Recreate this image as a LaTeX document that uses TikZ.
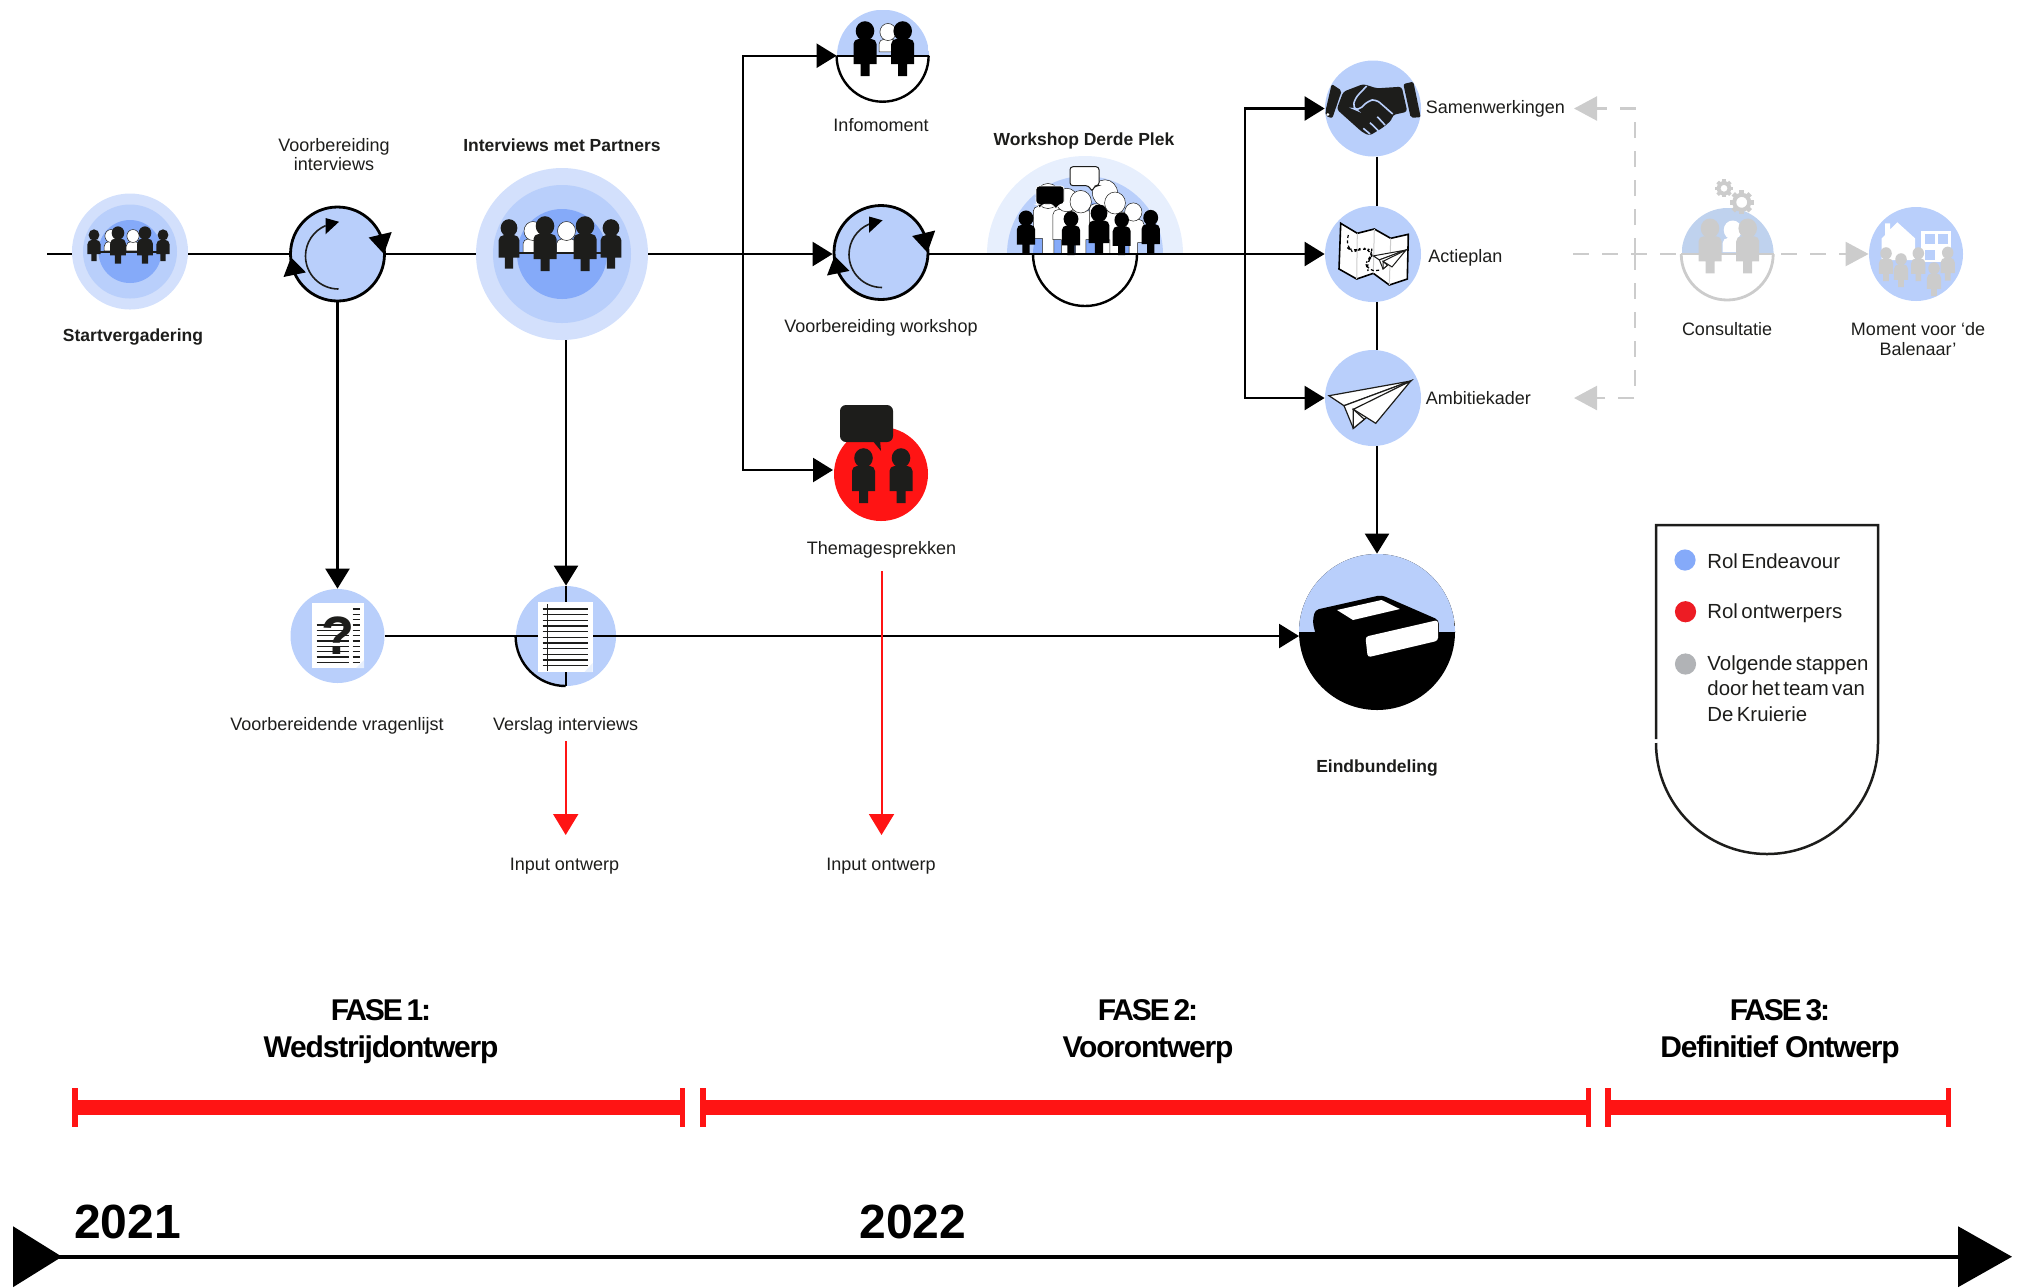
\documentclass[tikz,border=0pt]{standalone}
\usepackage{fontspec}
\setmainfont{Liberation Sans}
\newfontfamily\legfont[WordSpace=0.6]{Liberation Sans}
\newfontfamily\fasefont[LetterSpace=-4]{Liberation Sans}
\newfontfamily\fasekop[LetterSpace=-7,WordSpace=0.6]{Liberation Sans}
\usetikzlibrary{calc, arrows.meta}

\definecolor{ink}{HTML}{1D1D1B}
\definecolor{bleek}{HTML}{D3E0FC}
\definecolor{blauw}{HTML}{B9CFFB}
\definecolor{diep}{HTML}{85AAF9}
\definecolor{wsbleek}{HTML}{E7EFFD}
\definecolor{consblauw}{HTML}{BFD2EE}
\definecolor{rood}{HTML}{FF1414}
\definecolor{grijs}{HTML}{CCCCCC}

\tikzset{
    stap/.style={circle,inner sep=0pt,fill=blauw},
    halfboven/.style={path picture={\fill[#1] (path picture bounding box.west) rectangle (path picture bounding box.north east);}},
    lbl/.style={font=\fontsize{9}{9.7}\selectfont,text=ink,align=center,inner sep=0pt},
    lblb/.style={font=\fontsize{8.75}{9.7}\selectfont\bfseries,text=ink,align=center,inner sep=0pt},
    leg/.style={font=\fontsize{10.2}{12.8}\selectfont\legfont,text=ink,align=left,anchor=west,inner sep=0pt},
    fase/.style={font=\fontsize{15}{18.4}\selectfont\fasefont\bfseries,text=black,align=center,inner sep=0pt},
    jaar/.style={font=\fontsize{24}{24}\selectfont\bfseries,text=black,inner sep=0pt},
    lijn/.style={draw=black,line width=1.2pt},
    pijl/.style={lijn,-{Triangle[length=10pt,width=12pt]}},
    roodpijl/.style={draw=rood,line width=1pt,-{Triangle[length=10.5pt,width=12.5pt]}},
    streep/.style={draw=grijs,line width=1.2pt,dash pattern=on 8pt off 6.5pt},
    streeppijl/.style={streep,-{Triangle[length=11.5pt,width=12pt]}},
    fasetick/.style={fill=rood,inner sep=0pt,outer sep=0pt,minimum width=2.75pt,minimum height=19.5pt},
    fasebar/.style={draw=rood,line width=7.5pt},
    zwpers/.style={fill=black},
    inkpers/.style={fill=ink},
    witpers/.style={fill=white,draw=ink,line width=.25pt},
    grpers/.style={fill=grijs},
    pics/persoon/.style={code={
        \path[#1] (-4.5,-45) -- (-4.5,-33) -- (-11.5,-33) [rounded corners=2.5pt] -- (-11.5,-8) -- (11.5,-8) [sharp corners] -- (11.5,-33) -- (4.5,-33) -- (4.5,-45) -- cycle;
        \path[#1] (0,0) ellipse (9.3 and 9.8);
    }},
    pics/persoon/.default=zwpers,
    pics/bovenlijf/.style={code={
        \path[#1] (-10,-22) [rounded corners=2.5pt] -- (-10,-8) -- (10,-8) [sharp corners] -- (10,-22) -- cycle;
        \path[#1] (0,0) ellipse (9 and 9.5);
    }},
    pics/bovenlijf/.default=witpers,
    pics/kringloop/.style={code={
        \draw[draw=ink,line width=.8pt] (1,-35) arc (270:113:33);
        \fill[black] (-12,36) -- (1.5,32.2) -- (-12,19.7) -- cycle;
        \fill[black] (31.2,16.5) -- (54.2,22) -- (46.4,0) -- cycle;
        \fill[black] (-54,-23) -- (-46.5,-3.4) -- (-31.6,-18.4) -- cycle;
    }},
    pics/vliegtuig/.style={code={
        \filldraw[fill=white,draw=ink,line width=#1] (-81.7,-14.7) -- (0,0) -- (-66.7,-24.7) -- cycle;
        \filldraw[fill=white,draw=ink,line width=#1] (-66.7,-24.7) -- (0,0) -- (-57.4,-47.3) -- cycle;
        \filldraw[fill=white,draw=ink,line width=#1] (-57.4,-28.3) -- (-46.4,-38.3) -- (-57.4,-47.3) -- cycle;
        \filldraw[fill=white,draw=ink,line width=#1] (0,0) -- (-35,-42.3) -- (-57.4,-28.3) -- cycle;
    }},
    pics/vliegtuig/.default=.6pt,
    pics/tandwiel/.style={code={
        \draw[draw=grijs,line width=2pt] (0,0) circle (7.5);
        \foreach \a in {0,45,...,315}
            \fill[grijs,rotate=\a] (7,-2.4) rectangle (12,2.4);
    }}
}

\begin{document}
\begin{tikzpicture}[x=0.5pt,y=0.5pt]
    \useasboundingbox (0,0) rectangle (2022,-1287);

    % circles of the steps
    \node[stap,fill=bleek,minimum size=58pt] (start) at (130,-251.5) {};
    \node[stap,minimum size=47pt] (startm) at (130,-251.5) {};
    \node[stap,fill=diep,minimum size=31.5pt] (starti) at (130,-251.5) {};
    \node[stap,draw=black,line width=1.4pt,minimum size=47pt] (voorint) at (337.5,-254) {};
    \node[stap,fill=bleek,minimum size=86pt] (interv) at (562,-254) {};
    \node[stap,minimum size=69pt] (intervm) at (562,-254) {};
    \node[stap,fill=diep,minimum size=45pt] (intervi) at (562,-254) {};
    \node[stap,fill=none,halfboven=blauw,minimum size=46pt] (info) at (883,-55.7) {};
    \node[stap,draw=black,line width=1.4pt,minimum size=47pt] (vworkshop) at (881,-252.5) {};
    \node[stap,fill=rood,minimum size=47pt] (thema) at (881,-474) {};
    \node[stap,minimum size=47pt] (vragen) at (337.5,-636) {};
    \node[stap,minimum size=50pt] (verslag) at (566,-636) {};
    \node[stap,minimum size=48pt] (samen) at (1373,-108.5) {};
    \node[stap,minimum size=48pt] (actie) at (1373,-254) {};
    \node[stap,minimum size=48pt] (ambitie) at (1373,-398) {};
    \node[stap,fill=black,halfboven=blauw,minimum size=78pt] (eind) at (1377,-632) {};
    \node[stap,fill=none,halfboven=consblauw,minimum size=46pt] (consult) at (1727.6,-254) {};
    \node[stap,minimum size=47pt] (balenaar) at (1916,-254) {};

    % free ends
    \coordinate (lead) at (47,-254);
    \coordinate (split1) at (743,-254);
    \coordinate (split2) at (1245,-254);
    \coordinate (themain) at (833,-470);
    \coordinate (eindin) at (1299,-636);
    \coordinate (rood1) at (565.7,-835);
    \coordinate (rood2) at (881.5,-835);
    \coordinate (dashl) at (1573,-254);
    \coordinate (dashmid) at (1635,-254);
    \coordinate (dashtop) at (1574,-108.5);
    \coordinate (dashbot) at (1574,-398);

    % workshop dome
    \foreach \r/\c in {98/wsbleek,78/blauw,52/diep}
        \fill[\c] (1085-\r,-254) arc (180:0:\r) -- cycle;
    \draw[lijn] (1033,-254) arc (180:360:52);
    \foreach \x/\y/\s in {1048/196/1.28,1066.7/200/1.2,1080.7/201.7/1.15,1105/193/1.35,1115/203/1.12,1133.3/212/.93}
        \pic[scale=\s] at (\x,-\y) {persoon=witpers};
    \filldraw[fill=white,draw=ink,line width=.5pt,rounded corners=1.5pt] (1070,-166.7) -- (1099,-166.7) -- (1099,-185.7) -- (1095,-185.7) -- (1091.7,-191.7) -- (1089,-185.7) -- (1070,-185.7) -- cycle;
    \filldraw[fill=black,draw=white,line width=.4pt,rounded corners=1.5pt] (1036,-186) -- (1064,-186) -- (1064,-204.3) -- (1059,-204.3) -- (1055.7,-210) -- (1053,-204.3) -- (1042,-204.3) -- (1039,-210) -- (1038.5,-204.3) -- (1036,-204.3) -- cycle;
    \foreach \x/\y/\s in {1026/218.3/.8,1071/219/.8,1099/213.3/.9,1121.7/220/.78,1150.7/217.7/.8}
        \pic[scale=\s] at (\x,-\y) {persoon};

    % main line
    \draw[lijn] (lead) -- (start.west |- lead);
    \draw[lijn] (start.east |- lead) -- (voorint);
    \draw[lijn] (voorint) -- (interv);
    \draw[pijl] (interv) -- (vworkshop.west |- interv);
    \draw[pijl] (vworkshop.east |- interv) -- (actie);
    % branches
    \draw[pijl] (split1) |- (info);
    \draw[pijl] (split1) |- (themain);
    \draw[pijl] (split2) |- (samen);
    \draw[pijl] (split2) |- (ambitie);
    % vertical lines
    \draw[pijl] (voorint) -- (vragen);
    \draw[pijl] (interv.south -| verslag) -- (verslag);
    \draw[lijn] (verslag.north) -- (verslag.south);
    \draw[lijn] (samen.south -| eind) -- (actie.north -| eind);
    \draw[lijn] (actie.south -| eind) -- (ambitie.north -| eind);
    \draw[pijl] (ambitie.south -| eind) -- (eind);
    % lower line
    \draw[lijn] (vragen) -- (verslag.center);
    \draw[pijl] (verslag.center) -- (eindin);
    % half circles
    \draw[lijn] (info.west) -- (info.east);
    \draw[lijn] (info.west) arc (180:360:46);
    \draw[lijn] (verslag.west) arc (180:270:50);
    % grey steps
    \draw[streep] (dashl) -- (consult);
    \draw[streeppijl,shorten <=3.5pt] (consult) -- (balenaar);
    \draw[streeppijl] (dashmid) |- (dashtop);
    \draw[streeppijl] (dashmid) |- (dashbot);
    \draw[draw=grijs,line width=1.4pt] (consult.west) arc (180:360:46);
    \draw[draw=grijs,line width=1.4pt] (consult.west) -- (consult.east);

    % start and interview icons
    \foreach \x in {111,133}
        \pic[scale=.68] at (\x,-236) {bovenlijf};
    \draw[draw=ink,line width=1pt] (94,-252) -- (163,-252);
    \foreach \x/\y/\s in {94/235/.58,163/235/.58,118/233/.68,145/233/.68}
        \pic[scale=\s] at (\x,-\y) {persoon=inkpers};
    \foreach \x in {533,566.5}
        \pic at (\x,-231) {bovenlijf};
    \draw[draw=ink,line width=1pt] (509,-253) -- (611,-253);
    \foreach \x/\y/\s in {509/228/.9,611/228/.9,545/226/1,585/226/1}
        \pic[scale=\s] at (\x,-\y) {persoon=inkpers};
    % infomoment
    \pic[scale=.9] at (888,-32) {bovenlijf};
    \pic at (865,-31) {persoon};
    \pic at (902.7,-31) {persoon};
    % arrows in the circles
    \pic at (337.5,-254) {kringloop};
    \pic at (881,-252.5) {kringloop};
    % themagesprekken
    \fill[ink,rounded corners=3pt] (840,-405) rectangle (893,-442);
    \fill[ink] (872,-440) -- (881,-451) -- (880,-440) -- cycle;
    \pic at (863.5,-458) {persoon=inkpers};
    \pic at (901,-458) {persoon=inkpers};

    % documents
    \fill[white] (311.7,-602.7) rectangle (364,-668);
    \fill[wsbleek] (364,-660) -- (364,-668) -- (356,-668) -- cycle;
    \foreach \i in {0,...,10}
        \draw[draw=ink,line width=.7pt] (352.7,{-609-\i*5.33}) -- (360,{-609-\i*5.33});
    \foreach \i in {0,...,7}
        \draw[draw=ink,line width=.7pt] (316.7,{-625-\i*5.33}) -- (349.3,{-625-\i*5.33});
    \node[font=\fontsize{27}{27}\selectfont\bfseries,text=ink,inner sep=0pt] (vraagteken) at (337.7,-635.7) {?};
    \fill[white] (537.7,-602) rectangle (592.7,-672);
    \fill[wsbleek] (592.7,-663) -- (592.7,-672) -- (584.5,-672) -- cycle;
    \foreach \i in {0,...,10}
        \draw[draw=ink,line width=.7pt] (542.7,{-609-\i*5.67}) -- (587.7,{-609-\i*5.67});
    \draw[draw=ink,line width=.7pt] (547.3,-604.3) -- (547.3,-670.7);

    % handshake
    \fill[ink,rounded corners=1pt] (1331.7,-84) -- (1341.7,-90.7) -- (1332.3,-118.3) -- (1325.7,-116) -- (1325.7,-110) -- cycle;
    \fill[white] (1327.8,-114.5) circle (1.5);
    \fill[ink,rounded corners=1pt] (1403.3,-84) -- (1413.3,-81.7) -- (1420.7,-117.3) -- (1410.7,-117.7) -- cycle;
    \fill[ink,rounded corners=1.5pt] (1343.3,-91.7) -- (1363.3,-84) -- (1376.7,-88.3) -- (1401.7,-86.7) -- (1407.3,-111.7) -- (1392.7,-115) -- (1391.7,-120) -- (1383.3,-127.3) -- (1369.3,-135.7) -- (1361.7,-131.7) -- (1336.7,-109.3) -- cycle;
    \draw[draw=blauw,line width=.8pt,rounded corners=2.5pt] (1366.7,-86) -- (1355,-98.3) -- (1352.7,-108.3) -- (1358.3,-110.7) -- (1368.3,-100.7) -- (1376,-99.3) -- (1392.7,-114);
    \draw[draw=blauw,line width=.8pt] (1370,-122.7) -- (1378.3,-130.7);
    \draw[draw=blauw,line width=.8pt] (1377.3,-116.7) -- (1385,-125);
    \draw[draw=blauw,line width=.8pt] (1363.3,-128.3) -- (1370,-134);

    % map
    \filldraw[fill=white,draw=black,line width=.8pt] (1340.7,-223.3) -- (1357.3,-233.3) -- (1374.3,-229) -- (1390.7,-238.3) -- (1408.3,-234.3) -- (1407.3,-279) -- (1389.3,-285) -- (1373.3,-273.3) -- (1356.7,-279) -- (1339,-269) -- cycle;
    \draw[draw=grijs,line width=.5pt] (1357.3,-233.3) -- (1356.7,-279);
    \draw[draw=grijs,line width=.5pt] (1374.3,-229) -- (1373.3,-273.3);
    \draw[draw=grijs,line width=.5pt] (1390.7,-238.3) -- (1389.3,-285);
    \draw[draw=black,line width=.6pt,dash pattern=on 1.5pt off 1.2pt,rounded corners=4pt] (1348.3,-235) -- (1346,-246.7) -- (1353.3,-252.3) -- (1361.7,-247.7) -- (1371.7,-250) -- (1371.7,-256.7) -- (1365.7,-263.3) -- (1368.3,-271.7) -- (1380,-270);
    \pic[scale=.4] at (1406,-250) {vliegtuig=.5pt};
    % paper plane
    \pic at (1410.7,-381) {vliegtuig};

    % book
    \fill[black,rounded corners=2pt] (1314.9,-610) -- (1381.5,-595) -- (1438.9,-620) -- (1438.9,-640) -- (1317,-640) -- (1312.6,-622) -- cycle;
    \fill[white] (1337,-610) -- (1381.5,-600) -- (1399.8,-609) -- (1353,-620) -- cycle;
    \fill[white,rounded corners=1.5pt] (1365.4,-636.7) -- (1438,-620) -- (1438,-640.7) -- (1367.7,-657.3) -- cycle;
    % gears
    \pic[scale=.75] at (1724,-188.3) {tandwiel};
    \pic at (1741.7,-202.3) {tandwiel};
    % consultatie
    \pic at (1732.7,-230) {bovenlijf={fill=white}};
    \pic at (1710,-228.3) {persoon=grpers};
    \pic at (1747.7,-228.3) {persoon=grpers};
    % house and people
    \fill[white] (1881.7,-238.3) -- (1885,-235) -- (1885,-223.3) -- (1890,-223.3) -- (1890,-229.7) -- (1897.3,-222.3) -- (1915,-238.3) -- (1915,-260) -- (1881.7,-260) -- cycle;
    \fill[white] (1920.7,-230.7) rectangle (1950.7,-261.7);
    \foreach \x/\y in {1925/-233.5,1938.3/-233.5,1925/-250}
        \fill[blauw] (\x,\y) rectangle ++(9.5,-10);
    \foreach \x/\y in {1886/253.3,1901/259.3,1918.3/253.3,1934/268.3,1947.7/252.7}
        \pic[scale=.62] at (\x,-\y) {persoon=grpers};

    % red arrows
    \node[lbl] (lverslag) at (565.7,-725.5) {Verslag interviews};
    \node[lbl] (lthema) at (881.5,-550.2) {Themagesprekken};
    \draw[roodpijl,shorten <=3.5pt] (lverslag) -- (rood1);
    \draw[roodpijl,shorten <=6pt] (lthema) -- (rood2);

    % labels
    \node[lblb] (lstart) at (133,-337) {Startvergadering};
    \node[lbl] (lvoorint) at (334,-154.5) {Voorbereiding\\interviews};
    \node[lblb] (linterv) at (562,-145) {Interviews met Partners};
    \node[lbl] (linfo) at (881,-125) {Infomoment};
    \node[lblb] (lworkshop) at (1084,-140.5) {Workshop Derde Plek};
    \node[lbl] (lvworkshop) at (881,-327.5) {Voorbereiding workshop};
    \node[lbl,anchor=west] (lsamen) at (1425.5,-108.5) {Samenwerkingen};
    \node[lbl,anchor=west] (lactie) at (1428,-257.5) {Actieplan};
    \node[lbl,anchor=west] (lambitie) at (1425.5,-398) {Ambitiekader};
    \node[lbl] (lconsult) at (1727,-329) {Consultatie};
    \node[lbl] (lbalenaar) at (1918,-339) {Moment voor ‘de\\Balenaar’};
    \node[lbl] (lvragen) at (337,-725.5) {Voorbereidende vragenlijst};
    \node[lbl] (linput1) at (564.5,-866.5) {Input ontwerp};
    \node[lbl] (linput2) at (881,-866.5) {Input ontwerp};
    \node[lblb] (leind) at (1377,-767.5) {Eindbundeling};

    % legend
    \draw[draw=ink,line width=1.25pt] (1656,-739) -- (1656,-525) -- (1878,-525) -- (1878,-743) arc (0:-180:111);
    \node[circle,inner sep=0pt,minimum size=10.6pt,fill=diep] (dot1) at (1685,-560) {};
    \node[circle,inner sep=0pt,minimum size=10.6pt,fill={rgb,255:red,237;green,28;blue,36}] (dot2) at (1685.5,-611.7) {};
    \node[circle,inner sep=0pt,minimum size=10.6pt,fill={rgb,255:red,177;green,179;blue,182}] (dot3) at (1685.5,-664) {};
    \node[leg] (leg1) at (1707,-561) {Rol Endeavour};
    \node[leg] (leg2) at (1707,-613.5) {Rol ontwerpers};
    \node[leg] (leg3) at (1707,-688.5) {Volgende stappen\\door het team van\\De Kruierie};

    % phases
    \node[fase] (fase1) at (381,-1032) {{\fasekop FASE 1:}\\Wedstrijdontwerp};
    \node[fase] (fase2) at (1148,-1032) {{\fasekop FASE 2:}\\Voorontwerp};
    \node[fase] (fase3) at (1780,-1032) {{\fasekop FASE 3:}\\Definitief Ontwerp};
    \foreach \n/\x in {f1a/75,f1b/682.5,f2a/703,f2b/1588.6,f3a/1608,f3b/1948.5}
        \node[fasetick] (\n) at (\x,-1107.5) {};
    \draw[fasebar] (f1a.center) -- (f1b.center);
    \draw[fasebar] (f2a.center) -- (f2b.center);
    \draw[fasebar] (f3a.center) -- (f3b.center);

    % time axis
    \coordinate (asl) at (13,-1256.7);
    \coordinate (asr) at (2012,-1256.7);
    \draw[draw=black,line width=1.9pt,{Triangle[length=24.5pt,width=30pt,reversed]}-{Triangle[length=27pt,width=30pt]}] (asl) -- (asr);
    \node[jaar] (j2021) at (127.5,-1221.7) {2021};
    \node[jaar] (j2022) at (913,-1221.7) {2022};
\end{tikzpicture}
\end{document}
